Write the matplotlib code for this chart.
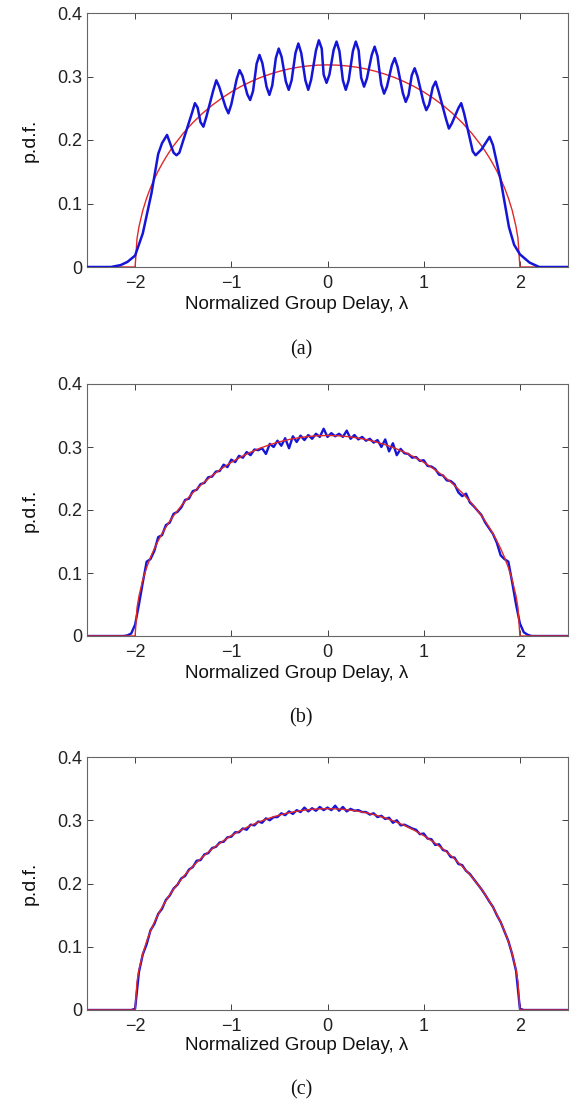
import numpy as np
import matplotlib
matplotlib.use("Agg")
import matplotlib.pyplot as plt

# ---------------- data ----------------
# theoretical semicircle curve (red), same in all panels
red_x = [-2.5, -2.0, -2.0, -1.98, -1.96, -1.92, -1.88, -1.84, -1.8, -1.76, -1.72, -1.68, -1.64, -1.6,
         -1.5, -1.4, -1.3, -1.2, -1.1, -1.0, -0.9, -0.8, -0.7, -0.6, -0.5, -0.4, -0.3, -0.2, -0.1,
         0.0, 0.1, 0.2, 0.3, 0.4, 0.5, 0.6, 0.7, 0.8, 0.9, 1.0, 1.1, 1.2, 1.3, 1.4, 1.5,
         1.6, 1.64, 1.68, 1.72, 1.76, 1.8, 1.84, 1.88, 1.92, 1.96, 1.98, 2.0, 2.0, 2.5]
red_y = [0.0, 0.0, 0.0, 0.0449, 0.0633, 0.0891, 0.1086, 0.1248, 0.1387, 0.1512, 0.1624, 0.1727, 0.1822, 0.1910,
         0.2105, 0.2273, 0.2419, 0.2546, 0.2658, 0.2757, 0.2843, 0.2917, 0.2982, 0.3036, 0.3082, 0.3119, 0.3147, 0.3167, 0.3179,
         0.3183, 0.3179, 0.3167, 0.3147, 0.3119, 0.3082, 0.3036, 0.2982, 0.2917, 0.2843, 0.2757, 0.2658, 0.2546, 0.2419, 0.2273, 0.2105,
         0.1910, 0.1822, 0.1727, 0.1624, 0.1512, 0.1387, 0.1248, 0.1086, 0.0891, 0.0633, 0.0449, 0.0, 0.0, 0.0]

# panel (a) empirical pdf (blue)
blue_a_x = [-2.5, -2.25, -2.15, -2.08, -2.0, -1.92, -1.83, -1.76, -1.72, -1.668, -1.62, -1.6, -1.57, -1.54,
            -1.41, -1.378, -1.35, -1.32, -1.29, -1.26,
            -1.186, -1.156, -1.126, -1.06, -1.03, -1.0,
            -0.944, -0.914, -0.884, -0.834, -0.804, -0.774,
            -0.737, -0.707, -0.677, -0.634, -0.604, -0.574,
            -0.537, -0.507, -0.477, -0.433, -0.403, -0.373,
            -0.333, -0.303, -0.273, -0.23, -0.2, -0.17,
            -0.12, -0.09, -0.06, -0.04, -0.01, 0.02,
            0.064, 0.094, 0.124, 0.16, 0.19, 0.22,
            0.264, 0.294, 0.324, 0.35, 0.38, 0.41,
            0.46, 0.49, 0.52, 0.558, 0.588, 0.618,
            0.669, 0.699, 0.729, 0.783, 0.813, 0.843,
            0.876, 0.906, 0.936, 0.997, 1.027, 1.057,
            1.094, 1.124, 1.154, 1.232, 1.262, 1.292,
            1.36, 1.39, 1.42, 1.51, 1.54, 1.6, 1.685, 1.72, 1.8, 1.886, 1.94, 2.0, 2.1, 2.2, 2.5]
blue_a_y = [0.0, 0.0, 0.003, 0.008, 0.018, 0.053, 0.116, 0.178, 0.195, 0.208, 0.188, 0.180, 0.176, 0.180,
            0.242, 0.258, 0.251, 0.228, 0.221, 0.236,
            0.279, 0.294, 0.284, 0.252, 0.242, 0.256,
            0.296, 0.310, 0.301, 0.272, 0.263, 0.277,
            0.320, 0.334, 0.321, 0.284, 0.271, 0.286,
            0.329, 0.344, 0.331, 0.292, 0.279, 0.294,
            0.337, 0.352, 0.337, 0.294, 0.279, 0.295,
            0.341, 0.357, 0.344, 0.303, 0.290, 0.303,
            0.342, 0.355, 0.340, 0.294, 0.279, 0.294,
            0.340, 0.355, 0.341, 0.298, 0.284, 0.297,
            0.334, 0.347, 0.332, 0.288, 0.273, 0.284,
            0.318, 0.329, 0.315, 0.274, 0.260, 0.271,
            0.302, 0.313, 0.300, 0.260, 0.247, 0.256,
            0.283, 0.292, 0.277, 0.233, 0.218, 0.226,
            0.250, 0.258, 0.242, 0.182, 0.176, 0.185, 0.205, 0.192, 0.137, 0.063, 0.035, 0.020, 0.007, 0.0, 0.0]

# panels (b) and (c): values on a grid from -2.2 to 2.2, step 0.04
grid_start, grid_stop = -2.2, 2.2
blue_b_y = [0.0, 0.0, 0.0, 0.001, 0.004, 0.018, 0.050, 0.085, 0.118, 0.122,
            0.135, 0.157, 0.160, 0.176, 0.180, 0.194, 0.197, 0.204, 0.216, 0.218,
            0.230, 0.232, 0.241, 0.243, 0.252, 0.253, 0.261, 0.262, 0.272, 0.268,
            0.280, 0.276, 0.286, 0.283, 0.292, 0.287, 0.296, 0.295, 0.298, 0.289,
            0.305, 0.300, 0.310, 0.302, 0.314, 0.298, 0.317, 0.308, 0.318, 0.311,
            0.319, 0.313, 0.321, 0.316, 0.329,
            0.316,
            0.322, 0.317, 0.321, 0.316, 0.326, 0.313, 0.319, 0.312, 0.316, 0.310,
            0.313, 0.307, 0.311, 0.300, 0.312, 0.293, 0.306, 0.287, 0.297, 0.290,
            0.289, 0.283, 0.284, 0.278, 0.279, 0.270, 0.269, 0.265, 0.256, 0.255,
            0.247, 0.246, 0.241, 0.228, 0.222, 0.226, 0.212, 0.206, 0.199, 0.192,
            0.180, 0.171, 0.162, 0.148, 0.128, 0.122, 0.118, 0.085, 0.050, 0.020,
            0.006, 0.002, 0.0, 0.0, 0.0]
blue_c_y = [0.0, 0.0, 0.0, 0.0, 0.0, 0.002, 0.060, 0.088, 0.104, 0.126,
            0.136, 0.152, 0.160, 0.174, 0.181, 0.192, 0.198, 0.208, 0.212, 0.222,
            0.226, 0.236, 0.237, 0.246, 0.248, 0.256, 0.258, 0.265, 0.266, 0.273,
            0.274, 0.281, 0.281, 0.287, 0.285, 0.293, 0.292, 0.298, 0.296, 0.303,
            0.300, 0.305, 0.305, 0.311, 0.308, 0.314, 0.310, 0.316, 0.313, 0.320,
            0.314, 0.319, 0.315, 0.321, 0.316,
            0.320,
            0.316, 0.323, 0.315, 0.321, 0.314, 0.318, 0.315, 0.316, 0.313, 0.313,
            0.309, 0.311, 0.305, 0.307, 0.302, 0.304, 0.296, 0.300, 0.292, 0.293,
            0.290, 0.287, 0.285, 0.278, 0.279, 0.271, 0.270, 0.261, 0.262, 0.253,
            0.251, 0.242, 0.241, 0.231, 0.229, 0.220, 0.215, 0.207, 0.199, 0.191,
            0.182, 0.172, 0.163, 0.150, 0.139, 0.124, 0.109, 0.088, 0.062, 0.002,
            0.0, 0.0, 0.0, 0.0, 0.0]

x_ticks = [-2, -1, 0, 1, 2]
x_tick_labels = ["\u22122", "\u22121", "0", "1", "2"]
y_ticks = [0, 0.1, 0.2, 0.3, 0.4]
y_tick_labels = ["0", "0.1", "0.2", "0.3", "0.4"]
panel_labels = ["(a)", "(b)", "(c)"]
xlabel_text = "Normalized Group Delay, \u03bb"
ylabel_text = "p.d.f."

# ---------------- drawing ----------------
W, H = 576, 1114
fig = plt.figure(figsize=(W / 100, H / 100), dpi=100)
sans = ["Liberation Sans", "DejaVu Sans"]
serif = ["Liberation Serif", "DejaVu Serif"]

# axes boxes in pixels: (left, top, right, bottom)
boxes = [(87, 13, 568, 267), (87, 384, 568, 636), (87, 757, 568, 1010)]
xlabel_y = [304, 673, 1046]
panel_y = [350, 718, 1090]

blue = "#1515d8"
red = "#e02828"

def grid_x(n):
    return np.linspace(grid_start, grid_stop, n)

for i, (l, t, r, b) in enumerate(boxes):
    ax = fig.add_axes([l / W, 1 - b / H, (r - l) / W, (b - t) / H])
    if i == 0:
        ax.plot(red_x, red_y, color=red, lw=1.0, zorder=2)
        ax.plot(blue_a_x, blue_a_y, color=blue, lw=1.8, zorder=3,
                solid_joinstyle="round")
    else:
        ys = blue_b_y if i == 1 else blue_c_y
        xs = list(grid_x(len(ys)))
        xs = [-2.5] + xs + [2.5]
        ys = [0.0] + ys + [0.0]
        ax.plot(xs, ys, color=blue, lw=1.7, zorder=2)
        ax.plot(red_x, red_y, color=red, lw=1.0, zorder=3)
    ax.set_xlim(-2.5, 2.5)
    ax.set_ylim(0, 0.4)
    ax.set_xticks(x_ticks)
    ax.set_xticklabels(x_tick_labels, fontfamily=sans, fontsize=13)
    ax.set_yticks(y_ticks)
    ax.set_yticklabels(y_tick_labels, fontfamily=sans, fontsize=13)
    ax.tick_params(direction="in", top=True, right=True, length=4, width=0.6,
                   colors="#222222", pad=5.5)
    ax.tick_params(axis="y", pad=3.5)
    for s in ax.spines.values():
        s.set_color("#666666")
        s.set_linewidth(0.8)
    fig.text(297 / W, 1 - xlabel_y[i] / H, xlabel_text, ha="center", va="center",
             fontfamily=sans, fontsize=13.5, color="#111111")
    fig.text(301 / W, 1 - panel_y[i] / H, panel_labels[i], ha="center", va="center",
             fontfamily=serif, fontsize=14.5, color="#111111")
    fig.text(30 / W, 1 - (t + b) / 2 / H, ylabel_text, ha="center", va="center",
             rotation=90, fontfamily=sans, fontsize=14, color="#111111")

fig.savefig("out.png", dpi=100, facecolor="white")
